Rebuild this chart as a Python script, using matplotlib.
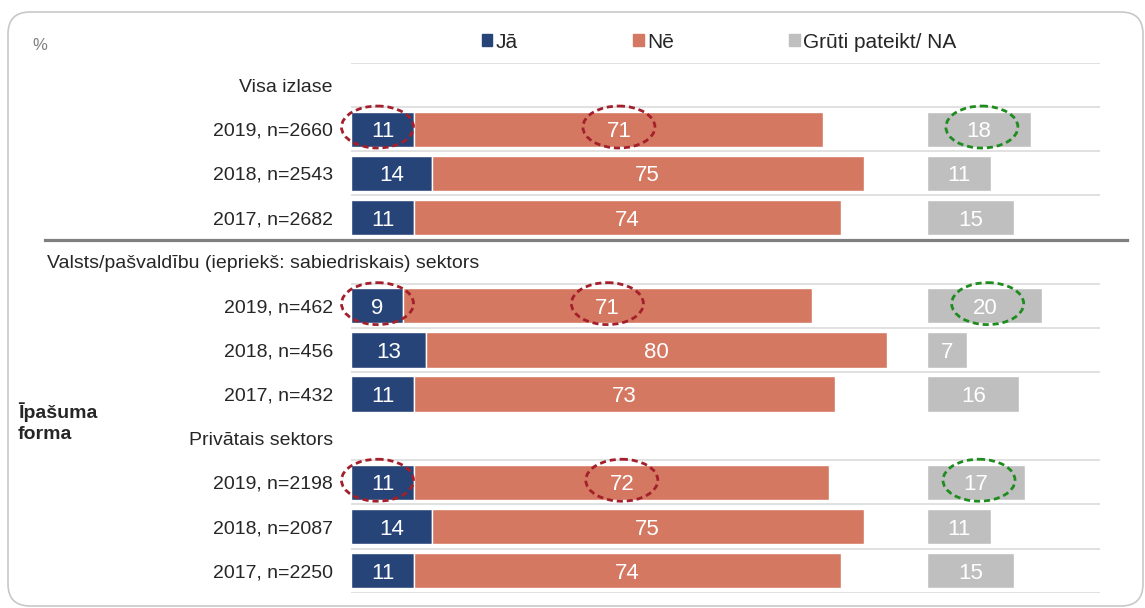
import numpy as np
import matplotlib
matplotlib.use("Agg")
import matplotlib.pyplot as plt
from matplotlib.patches import Ellipse, FancyBboxPatch, Patch

plt.rcParams["font.family"] = ["Liberation Sans", "DejaVu Sans"]

# ---------------------------------------------------------------------------
#  data (percent)
# ---------------------------------------------------------------------------
groups = ["Visa izlase",
          "Valsts/pašvaldību (iepriekš: sabiedriskais) sektors",
          "Privātais sektors"]
row_labels = ["2019, n=2660", "2018, n=2543", "2017, n=2682",
              "2019, n=462", "2018, n=456", "2017, n=432",
              "2019, n=2198", "2018, n=2087", "2017, n=2250"]
ja = [11, 14, 11, 9, 13, 11, 11, 14, 11]
ne = [71, 75, 74, 71, 80, 73, 72, 75, 74]
na = [18, 11, 15, 20, 7, 16, 17, 11, 15]
series_names = ["Jā", "Nē", "Grūti pateikt/ NA"]
highlight_rows = [0, 3, 6]      # the 2019 rows are circled

C_JA, C_NE, C_NA = "#264478", "#D57862", "#BFBFBF"
C_TXT = "#262626"
NA_OFFSET = 100                 # grey bars drawn in their own column

# slot layout: every group has a header slot followed by its rows
slots, tick_labels = [], []
for g, name in enumerate(groups):
    tick_labels.append(name if g != 1 else "")
    for r in range(3):
        slots.append(4 * g + r + 1)
        tick_labels.append(row_labels[3 * g + r])
slots = np.array(slots)

W, H = 1145, 608
fig = plt.figure(figsize=(W / 100, H / 100), dpi=100)
ax = fig.add_axes([351 / W, 1 - 592.8 / H, 749 / W, 529.8 / H])

ja = np.array(ja)
ne = np.array(ne)
na = np.array(na)

ax.barh(slots, ja, height=0.8, color=C_JA, edgecolor="white", lw=1)
ax.barh(slots, ne, left=ja, height=0.8, color=C_NE, edgecolor="white", lw=1)
ax.barh(slots, na, left=NA_OFFSET, height=0.8, color=C_NA,
        edgecolor="white", lw=1)

for y, a, b, c in zip(slots, ja, ne, na):
    for xc, v in [(a / 2, a), (a + b / 2, b), (NA_OFFSET + c / 2, c)]:
        ax.text(xc, y, f"{v}", ha="center", va="center_baseline",
                color="white", fontsize=16)

# dashed highlight ellipses round the 2019 values
for i in highlight_rows:
    y = slots[i]
    for xc, col in [(4.6, "#A31F2B"), (ja[i] + ne[i] / 2, "#A31F2B"),
                    (NA_OFFSET + na[i] / 2 + 0.5, "#1E8C1E")]:
        ax.add_patch(Ellipse((xc, y - 0.05), width=12.5, height=0.95,
                             fill=False, edgecolor=col, lw=2,
                             ls=(0, (2.2, 1.4)), zorder=5, clip_on=False))

# light row separators
for b in np.arange(-0.5, 12, 1.0):
    if b == 7.5:
        continue
    ax.axhline(b, color="#D9D9D9", lw=1.1, zorder=0)

# dark section separator
ax.axhline(3.5, xmin=(45 - 351) / 749, xmax=(1127 - 351) / 749,
           color="#7F7F7F", lw=2.3, clip_on=False, zorder=3)

ax.set_xlim(0, 130)
ax.set_ylim(11.5, -0.5)
ax.set_yticks(range(12))
ax.set_yticklabels(tick_labels, fontsize=14, color=C_TXT)
ax.tick_params(axis="y", length=0, pad=13)
ax.set_xticks([])
for s in ax.spines.values():
    s.set_visible(False)

ax.text(47 / W, 1 - 264 / H, groups[1], transform=fig.transFigure,
        ha="left", va="center", fontsize=14, color=C_TXT)
fig.text(18 / W, 1 - 423 / H, "Īpašuma\nforma", ha="left", va="center",
         fontsize=14, fontweight="bold", color=C_TXT, linespacing=1.3)
fig.text(32 / W, 1 - 45 / H, "%", ha="left", va="center", fontsize=12,
         color="#7F7F7F")

handles = [Patch(color=c) for c in (C_JA, C_NE, C_NA)]
fig.legend(handles, series_names, loc="center left",
           bbox_to_anchor=(482 / W, 1 - 42 / H), ncol=3, frameon=False,
           fontsize=15, handlelength=0.5, handleheight=0.5,
           handletextpad=0.15, columnspacing=5.55, borderpad=0,
           borderaxespad=0, labelcolor=C_TXT)

# rounded frame round the whole chart
fig.add_artist(FancyBboxPatch((0.08, 0.02), 11.35, 5.94,
                              boxstyle="round,pad=0,rounding_size=0.22",
                              transform=fig.dpi_scale_trans, fill=False,
                              edgecolor="#C8C8C8", lw=1.2))

fig.savefig("out.png", dpi=100)
